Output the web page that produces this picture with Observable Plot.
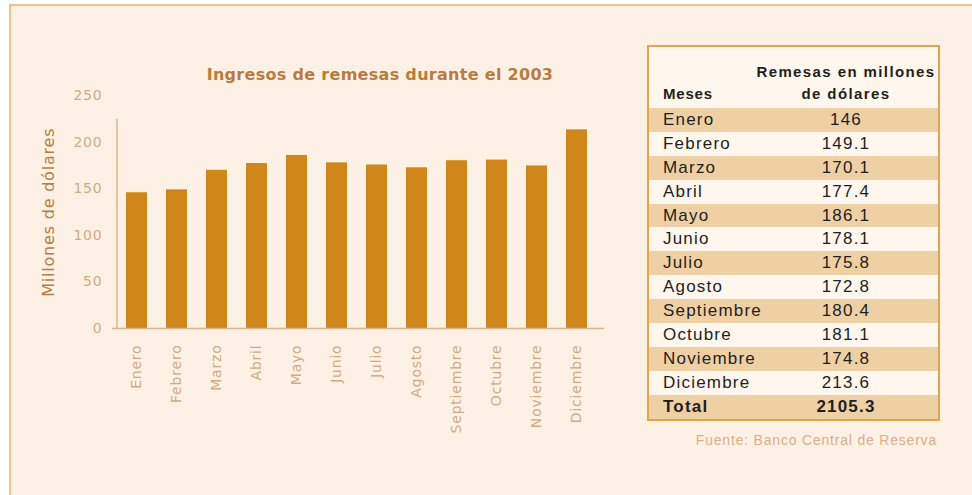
<!DOCTYPE html>
<html>
<head>
<meta charset="utf-8">
<script src="https://cdn.jsdelivr.net/npm/d3@7"></script>
<script src="https://cdn.jsdelivr.net/npm/@observablehq/plot@0.6"></script>
<style>
  html, body { margin: 0; padding: 0; }
  body { width: 972px; height: 495px; overflow: hidden; position: relative; background: #ffffff; }
  #frame { position: absolute; left: 9px; top: 4px; width: 1000px; height: 520px; background: #fdf1e6;
           border-top: 2px solid #eec48a; border-left: 2px solid #eec48a; }
  #chart { position: absolute; left: 0; top: 0; }
  #title { position: absolute; left: 130px; width: 500px; top: 64px; text-align: center;
           font-family: "DejaVu Sans", sans-serif; font-weight: bold; font-size: 16px; letter-spacing: 0.3px;
           color: #b97b3f; line-height: 22px; }
  #tbl { position: absolute; left: 647px; top: 45px; width: 293px; border-collapse: collapse; table-layout: fixed;
         border: 2px solid #e2a54e; background: #fff7ee; font-family: "Liberation Sans", Arial, sans-serif;
         color: #1e1e1e; }
  #tbl td, #tbl th { padding: 0; white-space: nowrap; overflow: visible; }
  #tbl thead th { height: 58px; vertical-align: bottom; font-weight: bold; padding-bottom: 3px; }
  #tbl thead th.c1 { text-align: left; padding-left: 14px; font-size: 15px; letter-spacing: 0.8px; line-height: 22px; }
  #tbl thead th.c2 { text-align: center; font-size: 15px; letter-spacing: 1.4px; line-height: 22px; }
  #tbl tbody td { height: 23.9px; font-size: 17px; letter-spacing: 1.2px; line-height: 20px; }
  #tbl tbody td.c1 { padding-left: 14px; text-align: left; }
  #tbl tbody td.c2 { text-align: center; }
  #tbl tbody tr.odd { background: #efd0a5; }
  #tbl tbody tr.total td { font-weight: bold; }
  #source { position: absolute; right: 35px; top: 430px; font-family: "Liberation Sans", Arial, sans-serif;
            font-size: 14px; letter-spacing: 0.8px; color: #dcae88; line-height: 20px; }
</style>
</head>
<body>
<div id="frame"></div>
<div id="chart"></div>
<div id="title"></div>
<table id="tbl"><thead><tr><th class="c1" style="width:91px"></th><th class="c2"></th></tr></thead><tbody></tbody></table>
<div id="source"></div>
<script>
// ---- Data ----
const months = ["Enero", "Febrero", "Marzo", "Abril", "Mayo", "Junio", "Julio", "Agosto",
                "Septiembre", "Octubre", "Noviembre", "Diciembre"];
const values = [146, 149.1, 170.1, 177.4, 186.1, 178.1, 175.8, 172.8, 180.4, 181.1, 174.8, 213.6];
const totalLabel = "Total";
const totalValue = "2105.3";
const yTicks = [0, 50, 100, 150, 200, 250];
const yDomain = [0, 250];
const axisTop = 225;
const titleText = "Ingresos de remesas durante el 2003";
const yLabel = "Millones de dólares";
const colHeaders = ["Meses", "Remesas en millones<br>de dólares"];
const sourceText = "Fuente: Banco Central de Reserva";

const data = months.map((m, i) => ({month: m, value: values[i]}));

// ---- Chart ----
const W = 640, H = 470, ML = 115, MR = 42, MT = 95.5, MB = 142;
const padIn = 0.48, padOut = 0.25;
const step = (W - ML - MR) / (months.length - padIn + 2 * padOut);

const chart = Plot.plot({
  width: W, height: H,
  marginLeft: ML, marginRight: MR, marginTop: MT, marginBottom: MB,
  style: {background: "transparent", fontFamily: "DejaVu Sans, sans-serif", fontSize: "14px",
          color: "#d3aa80", letterSpacing: "0.8px", overflow: "visible"},
  x: {domain: months, paddingInner: padIn, paddingOuter: padOut, label: null},
  y: {domain: yDomain, label: null},
  marks: [
    Plot.axisY({ticks: yTicks, tickSize: 0, tickPadding: 13, label: null}),
    Plot.axisX({tickRotate: -90, tickSize: 0, tickPadding: 16, label: null}),
    Plot.barY(data, {x: "month", y: "value", fill: "#cf861b"}),
    Plot.ruleY([0], {stroke: "#d8b590", strokeWidth: 1.5, insetLeft: -3, insetRight: -6}),
    Plot.ruleX([months[0]], {y1: 0, y2: axisTop, dx: -step / 2, stroke: "#d8b590", strokeWidth: 1.5}),
    Plot.text([yLabel], {text: d => d, frameAnchor: "left", textAnchor: "middle", rotate: -90, dx: -67,
                         fill: "#b97b3f", fontSize: 16, letterSpacing: 1})
  ]
});
document.getElementById("chart").appendChild(chart);

document.getElementById("title").textContent = titleText;
document.getElementById("source").textContent = sourceText;

// ---- Table ----
const ths = document.querySelectorAll("#tbl thead th");
ths[0].innerHTML = colHeaders[0];
ths[1].innerHTML = colHeaders[1];
const tbody = document.querySelector("#tbl tbody");
const rows = months.map((m, i) => [m, String(values[i])]);
rows.push([totalLabel, totalValue]);
rows.forEach((r, i) => {
  const tr = document.createElement("tr");
  if (i % 2 === 0) tr.className = "odd";
  if (i === rows.length - 1) tr.className += " total";
  tr.innerHTML = `<td class="c1">${r[0]}</td><td class="c2">${r[1]}</td>`;
  tbody.appendChild(tr);
});
</script>
</body>
</html>
